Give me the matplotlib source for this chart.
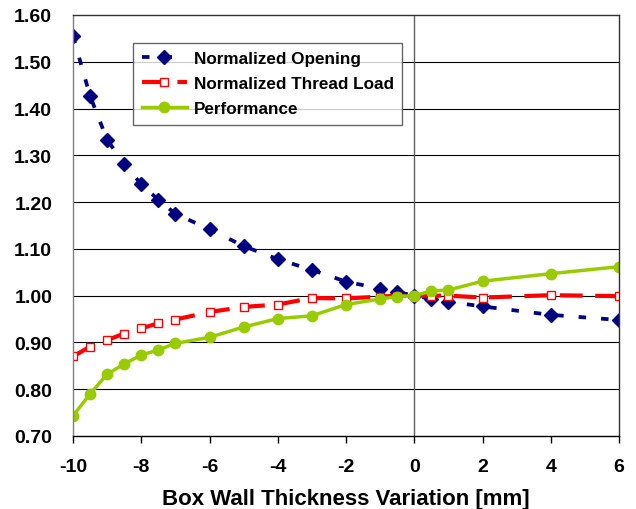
import matplotlib
matplotlib.use("Agg")
import matplotlib.pyplot as plt

plt.rcParams['font.family'] = ['Liberation Sans', 'DejaVu Sans']
plt.rcParams['font.weight'] = 'bold'

x_vals = [-10, -9.5, -9, -8.5, -8, -7.5, -7, -6, -5, -4, -3, -2, -1, -0.5, 0, 0.5, 1, 2, 4, 6]
opening = [1.555, 1.427, 1.333, 1.282, 1.238, 1.205, 1.175, 1.142, 1.106, 1.078, 1.055, 1.030,
           1.015, 1.008, 1.000, 0.993, 0.987, 0.977, 0.959, 0.948]
thread_load = [0.870, 0.891, 0.905, 0.919, 0.930, 0.941, 0.949, 0.965, 0.976, 0.981, 0.995, 0.994,
               0.998, 1.000, 1.000, 1.000, 1.000, 0.996, 1.001, 0.999]
performance = [0.743, 0.790, 0.832, 0.854, 0.873, 0.884, 0.898, 0.911, 0.933, 0.951, 0.957, 0.981,
               0.993, 0.998, 1.000, 1.010, 1.012, 1.031, 1.047, 1.062]

x_ticks = [-10, -8, -6, -4, -2, 0, 2, 4, 6]
y_ticks = [0.70, 0.80, 0.90, 1.00, 1.10, 1.20, 1.30, 1.40, 1.50, 1.60]

fig = plt.figure(figsize=(6.36, 5.10), dpi=100)
ax = fig.add_axes([73/636, 1-437/510, 546/636, 421/510])

for yv in y_ticks[1:-1]:
    ax.axhline(yv, color='black', lw=0.8, zorder=1)
ax.axvline(0, color='#606060', lw=1.0, zorder=1)

ax.plot(x_vals, opening, color='#000080', lw=2.7, dashes=(2, 4), marker='D', ms=7,
        mfc='#000080', mec='#000080', label='Normalized Opening', zorder=3)
ax.plot(x_vals, thread_load, color='#FF0000', lw=3, dashes=(5.5, 3), marker='s', ms=6,
        mfc='white', mec='#FF0000', mew=1.0, label='Normalized Thread Load', zorder=3)
ax.plot(x_vals, performance, color='#99CC00', lw=2.5, marker='o', ms=7.5,
        mfc='#99CC00', mec='#99CC00', label='Performance', zorder=3)

ax.set_xlim(-10, 6)
ax.set_ylim(0.70, 1.60)
ax.set_xticks(x_ticks)
ax.set_xticklabels([str(v) for v in x_ticks])
ax.set_yticks(y_ticks)
ax.set_yticklabels([f"{v:.2f}" for v in y_ticks])
ax.tick_params(axis='x', direction='out', length=5, width=1, labelsize=14, pad=11)
ax.tick_params(axis='y', length=0, labelsize=14, pad=15)
for lbl in ax.get_xticklabels() + ax.get_yticklabels():
    lbl.set_fontweight('bold')

ax.spines['left'].set_color('#808080')
ax.spines['bottom'].set_color('black')
ax.spines['top'].set_color('#303030')
ax.spines['right'].set_color('#303030')
for s in ax.spines.values():
    s.set_linewidth(1.0)
    s.set_zorder(4)

ax.set_xlabel('Box Wall Thickness Variation [mm]', fontsize=16, fontweight='bold', labelpad=9)

leg = ax.legend(loc='upper left', bbox_to_anchor=(0.110, 0.934), numpoints=1,
                prop={'weight': 'bold', 'size': 12.3}, handlelength=2.65,
                frameon=True, fancybox=False, borderpad=0.5, labelspacing=0.58,
                handletextpad=0.4, borderaxespad=0)
leg.get_frame().set_edgecolor('#404040')
leg.get_frame().set_linewidth(1.0)
leg.set_zorder(5)

fig.savefig('out.png', dpi=100)
